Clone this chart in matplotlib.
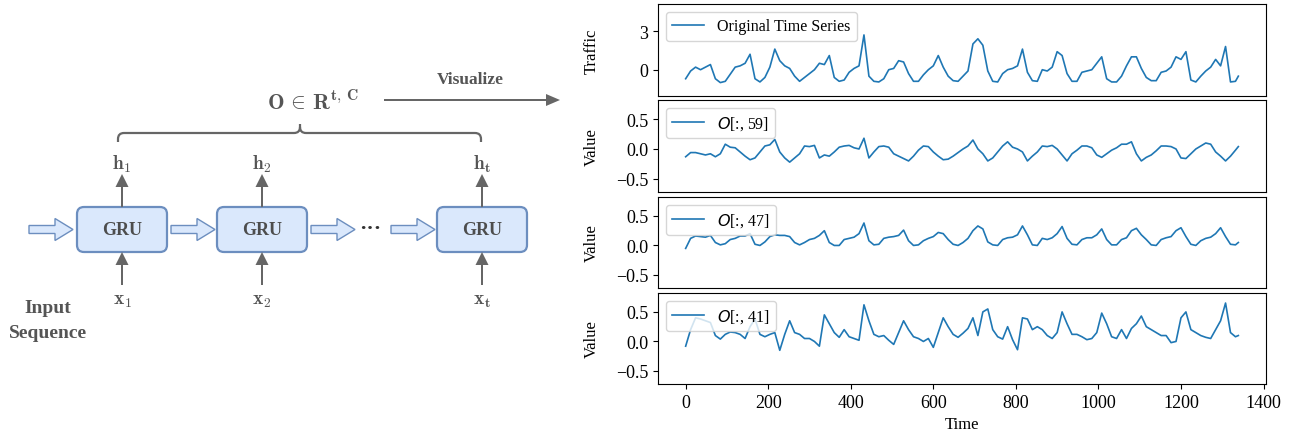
import matplotlib
matplotlib.use("Agg")
import matplotlib.pyplot as plt
from matplotlib.patches import FancyBboxPatch, FancyArrow, PathPatch
from matplotlib.path import Path

plt.rcParams['font.family'] = ['Liberation Serif', 'DejaVu Sans']

# ---------------- data (sampled every 12 steps, last point at t=1339) ----------------
traffic = [
    -0.7, -0.1, 0.2, 0.0, 0.2, 0.4, -0.7, -1.0, -0.9, -0.35,
    0.2, 0.3, 0.5, 1.2, -0.7, -0.95, -0.6, 0.2, 1.6, 0.7,
    0.3, 0.1, -0.5, -0.9, -0.6, -0.3, 0.0, 0.5, 0.4, 1.1,
    -0.6, -0.9, -0.8, -0.2, 0.1, 0.3, 2.7, -0.5, -0.9, -0.95,
    -0.7, 0.0, 0.1, 0.7, 0.6, -0.3, -0.9, -0.9, -0.4, 0.0,
    0.3, 1.1, 0.2, -0.5, -0.85, -0.9, -0.5, -0.1, 2.0, 2.4,
    1.9, -0.1, -0.9, -0.95, -0.3, 0.0, 0.1, 0.3, 1.6, -0.2,
    -0.85, -0.9, 0.0, -0.1, 0.2, 1.4, 1.1, -0.3, -0.9, -0.9,
    -0.2, -0.1, 0.0, 0.5, 1.0, -0.7, -0.95, -0.95, -0.5, 0.3,
    1.0, 1.0, 0.1, -0.6, -0.85, -0.85, -0.2, -0.1, 0.2, 1.0,
    0.8, 1.4, -0.8, -0.95, -0.5, -0.1, 0.2, 0.8, 0.3, 1.8,
    -0.95, -0.9, -0.5,
]
o59 = [
    -0.13, -0.06, -0.06, -0.08, -0.10, -0.08, -0.13, -0.08, 0.08, 0.03,
    0.02, -0.05, -0.12, -0.18, -0.15, -0.05, 0.05, 0.07, 0.16, -0.05,
    -0.15, -0.22, -0.15, -0.08, 0.05, 0.04, 0.06, -0.15, -0.10, -0.12,
    -0.05, 0.03, 0.05, 0.06, 0.02, 0.00, 0.18, -0.15, -0.05, 0.04,
    0.05, 0.03, -0.08, -0.12, -0.16, -0.20, -0.12, -0.02, 0.05, 0.04,
    -0.05, -0.12, -0.18, -0.17, -0.12, -0.06, 0.00, 0.05, 0.15, 0.00,
    -0.08, -0.20, -0.15, -0.05, 0.05, 0.12, 0.03, 0.00, -0.05, -0.20,
    -0.12, -0.05, 0.05, 0.04, 0.06, 0.00, -0.10, -0.20, -0.08, -0.02,
    0.05, 0.05, 0.02, -0.10, -0.14, -0.08, -0.02, 0.02, 0.08, 0.08,
    0.12, -0.08, -0.20, -0.14, -0.10, -0.03, 0.05, 0.05, 0.04, 0.00,
    -0.15, -0.16, -0.08, 0.00, 0.05, 0.10, 0.08, -0.05, -0.12, -0.20,
    -0.12, -0.02, 0.04,
]
o47 = [
    -0.05, 0.12, 0.16, 0.15, 0.14, 0.17, 0.05, 0.01, 0.03, 0.10,
    0.12, 0.16, 0.16, 0.20, 0.02, 0.00, 0.06, 0.15, 0.18, 0.17,
    0.17, 0.15, 0.05, 0.01, 0.05, 0.10, 0.12, 0.17, 0.25, 0.05,
    0.00, 0.00, 0.10, 0.12, 0.14, 0.20, 0.38, 0.08, 0.01, 0.02,
    0.12, 0.14, 0.15, 0.17, 0.26, 0.08, 0.00, 0.01, 0.08, 0.12,
    0.15, 0.22, 0.20, 0.10, 0.02, 0.00, 0.05, 0.12, 0.25, 0.33,
    0.28, 0.06, 0.01, 0.00, 0.10, 0.13, 0.14, 0.18, 0.33, 0.18,
    0.01, 0.00, 0.12, 0.10, 0.13, 0.20, 0.32, 0.12, 0.02, 0.01,
    0.10, 0.13, 0.13, 0.18, 0.28, 0.10, 0.01, 0.01, 0.10, 0.13,
    0.25, 0.29, 0.18, 0.10, 0.01, 0.00, 0.10, 0.13, 0.15, 0.25,
    0.30, 0.15, 0.02, 0.00, 0.08, 0.12, 0.14, 0.20, 0.30, 0.15,
    0.02, 0.01, 0.05,
]
o41 = [
    -0.08, 0.20, 0.40, 0.38, 0.35, 0.32, 0.10, 0.04, 0.12, 0.16,
    0.15, 0.12, 0.05, 0.25, 0.38, 0.12, 0.08, 0.12, 0.15, -0.15,
    0.12, 0.35, 0.15, 0.12, 0.05, 0.05, 0.00, -0.08, 0.45, 0.30,
    0.15, 0.07, 0.20, 0.08, 0.05, 0.02, 0.62, 0.35, 0.12, 0.08,
    0.10, 0.02, -0.05, 0.15, 0.35, 0.20, 0.08, 0.05, 0.00, 0.05,
    -0.10, 0.15, 0.40, 0.25, 0.12, 0.07, 0.14, 0.22, 0.40, 0.10,
    0.50, 0.55, 0.20, 0.08, 0.04, 0.25, 0.03, -0.14, 0.40, 0.38,
    0.20, 0.25, 0.20, 0.10, 0.05, 0.15, 0.50, 0.30, 0.12, 0.12,
    0.08, 0.03, 0.05, 0.15, 0.48, 0.30, 0.08, 0.05, 0.20, 0.05,
    0.22, 0.30, 0.43, 0.25, 0.20, 0.15, 0.10, 0.10, -0.02, 0.00,
    0.40, 0.50, 0.20, 0.15, 0.10, 0.07, 0.05, 0.20, 0.35, 0.65,
    0.15, 0.08, 0.10,
]
series = [traffic, o59, o47, o41]
labels = ['Original Time Series', r'$O$[:, 59]', r'$O$[:, 47]', r'$O$[:, 41]']
ylabels = ['Traffic', 'Value', 'Value', 'Value']
xticks = [0, 200, 400, 600, 800, 1000, 1200, 1400]

def time_of(vals):
    return [12 * i for i in range(len(vals) - 1)] + [1339]

W, H = 1290, 439
fig = plt.figure(figsize=(W / 100, H / 100), dpi=100)

# ---------------- right panels ----------------
panel_px = [(5, 97), (101, 193), (198, 289), (294, 385)]
ax_left, ax_right = 658, 1266
line_color = '#1f77b4'
for i, (vals, lab, yl, (top, bot)) in enumerate(zip(series, labels, ylabels, panel_px)):
    ax = fig.add_axes([ax_left / W, 1 - bot / H, (ax_right - ax_left) / W, (bot - top) / H])
    ax.plot(time_of(vals), vals, color=line_color, lw=1.2, label=lab)
    ax.set_xlim(-67, 1406)
    if i == 0:
        ax.set_ylim(-2.04, 5.1)
        ax.set_yticks([0, 3])
    else:
        ax.set_ylim(-0.72, 0.82)
        ax.set_yticks([-0.5, 0.0, 0.5])
    ax.tick_params(labelsize=13)
    if i < 3:
        ax.tick_params(bottom=False, labelbottom=False)
    else:
        ax.set_xticks(xticks)
        ax.set_xlabel('Time', fontsize=12)
    ax.set_ylabel(yl, fontsize=12)
    ax.yaxis.set_label_coords(-0.095, 0.5)
    ax.legend(loc='upper left', fontsize=11.5, handlelength=2.0)

# ---------------- left diagram (pixel coordinates) ----------------
ad = fig.add_axes([0, 0, 1, 1])
ad.set_xlim(0, W)
ad.set_ylim(H, 0)
ad.axis('off')
ad.patch.set_alpha(0)

gray = '#666666'
txt = '#555555'
box_face = '#dae8fc'
box_edge = '#6c8ebf'

box_x = [77, 217, 437]
box_w, box_y, box_h = 90, 208, 45
cy = box_y + box_h / 2
h_labels = [r'$\mathbf{h_1}$', r'$\mathbf{h_2}$', r'$\mathbf{h_t}$']
x_labels = [r'$\mathbf{x_1}$', r'$\mathbf{x_2}$', r'$\mathbf{x_t}$']
for bx, hl, xl in zip(box_x, h_labels, x_labels):
    ad.add_patch(FancyBboxPatch((bx, box_y), box_w, box_h,
                                boxstyle='round,pad=0,rounding_size=7',
                                fc=box_face, ec=box_edge, lw=1.6))
    ad.text(bx + box_w / 2, cy, 'GRU', ha='center', va='center',
            fontsize=13, fontweight='bold', color='#4d4d4d')
    cx = bx + box_w / 2
    ad.add_patch(FancyArrow(cx, box_y, 0, -33, width=2, head_width=13,
                            head_length=13, length_includes_head=True,
                            color=gray, lw=0))
    ad.add_patch(FancyArrow(cx, 286, 0, box_y + box_h - 286, width=2, head_width=13,
                            head_length=13, length_includes_head=True,
                            color=gray, lw=0))
    ad.text(cx, 164, hl, ha='center', va='center', fontsize=14,
            color=txt, math_fontfamily='cm')
    ad.text(cx, 302, xl, ha='center', va='center', fontsize=14,
            color=txt, math_fontfamily='cm')

for x0, x1 in [(29, 73), (171, 215), (311, 355), (391, 435)]:
    ad.add_patch(FancyArrow(x0, cy, x1 - x0, 0, width=8, head_width=22,
                            head_length=18, length_includes_head=True,
                            fc=box_face, ec=box_edge, lw=1.0))
ad.text(370, cy - 1, '···', ha='center', va='center', fontsize=16,
        fontweight='bold', color='#333333')

ad.text(48, 309, 'Input', ha='center', va='center', fontsize=14,
        fontweight='bold', color=txt)
ad.text(48, 334, 'Sequence', ha='center', va='center', fontsize=14,
        fontweight='bold', color=txt)

# brace
xa, xb, xc = 118, 481, 300
yb, ym, yt, r = 143, 134, 125, 6
verts = [(xa, yb), (xa, ym + r), (xa, ym), (xa + r, ym), (xc - r, ym),
         (xc, ym), (xc, ym - r), (xc, yt), (xc, ym - r), (xc, ym), (xc + r, ym),
         (xb - r, ym), (xb, ym), (xb, ym + r), (xb, yb)]
codes = [Path.MOVETO, Path.LINETO, Path.CURVE3, Path.CURVE3, Path.LINETO,
         Path.CURVE3, Path.CURVE3, Path.LINETO, Path.MOVETO, Path.CURVE3, Path.CURVE3,
         Path.LINETO, Path.CURVE3, Path.CURVE3, Path.LINETO]
ad.add_patch(PathPatch(Path(verts, codes), fc='none', ec=gray, lw=1.6))

ad.text(267, 103, r'$\mathbf{O}\,\in\,\mathbf{R}^{\mathbf{t,\,C}}$', ha='left', va='center',
        fontsize=16, color=txt, math_fontfamily='cm')

ad.add_patch(FancyArrow(384, 101, 176, 0, width=2, head_width=12,
                        head_length=14, length_includes_head=True,
                        color=gray, lw=0))
ad.text(470, 80, 'Visualize', ha='center', va='center', fontsize=12.5,
        fontweight='bold', color=txt)

fig.savefig('out.png', dpi=100)
